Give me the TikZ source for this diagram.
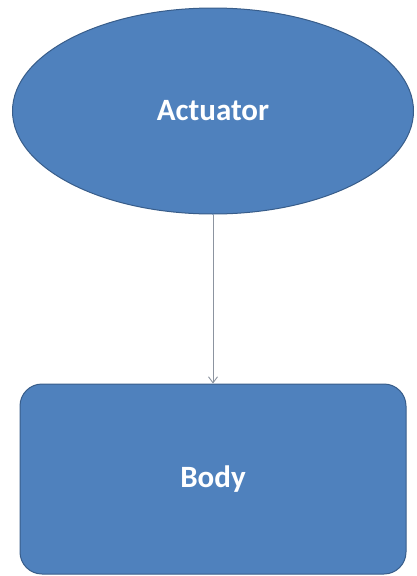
\documentclass[tikz,border=0pt]{standalone}
\usepackage{fontspec}
\setmainfont{Carlito}
\usetikzlibrary{positioning,arrows.meta,shapes.geometric}
\definecolor{officeblue}{RGB}{79,129,189}
\definecolor{officeedge}{RGB}{56,93,138}
\definecolor{linkgray}{RGB}{140,148,160}
\tikzset{
	flow/.style={>={Straight Barb[length=6pt,width=9pt]},x=1pt,y=1pt},
	part/.style={draw=officeedge,line width=1pt,fill=officeblue,text=white,
		font=\fontsize{31}{36}\selectfont\bfseries,inner sep=0pt},
	driver/.style={part,ellipse,minimum width=401pt,minimum height=206pt},
	block/.style={part,rectangle,rounded corners=22pt,minimum width=386pt,
		minimum height=190pt},
	link/.style={->,draw=linkgray,line width=0.9pt}
}

\begin{document}
\begin{tikzpicture}[flow]
	\useasboundingbox (0,0) rectangle (417,-576);
	
	\node[driver] (act) at (213,-111) {Actuator};
	\node[block] (body) [below=169pt of act] {Body};
	
	\path[link] (act) edge (body);
\end{tikzpicture}
\end{document}
